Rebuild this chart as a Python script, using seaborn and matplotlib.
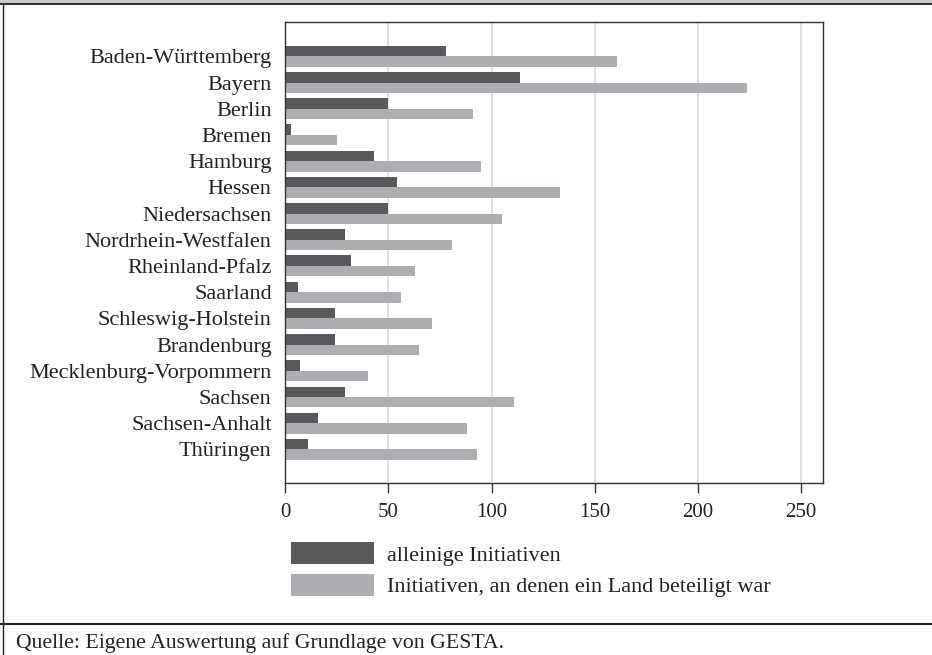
import matplotlib
matplotlib.use("Agg")
import matplotlib.pyplot as plt
import seaborn as sns
import pandas as pd
from matplotlib.lines import Line2D
from matplotlib.patches import Rectangle, Patch

# ---- data ----
laender = ["Baden-Württemberg", "Bayern", "Berlin", "Bremen", "Hamburg", "Hessen",
           "Niedersachsen", "Nordrhein-Westfalen", "Rheinland-Pfalz", "Saarland",
           "Schleswig-Holstein", "Brandenburg", "Mecklenburg-Vorpommern", "Sachsen",
           "Sachsen-Anhalt", "Thüringen"]
alleinige = [78, 114, 50, 3, 43, 54, 50, 29, 32, 6, 24, 24, 7, 29, 16, 11]
beteiligt = [161, 224, 91, 25, 95, 133, 105, 81, 63, 56, 71, 65, 40, 111, 88, 93]
serien = ["alleinige Initiativen", "Initiativen, an denen ein Land beteiligt war"]
farben = ["#58595b", "#adaeb1"]
x_ticks = [0, 50, 100, 150, 200, 250]
quelle = "Quelle: Eigene Auswertung auf Grundlage von GESTA."

df = pd.DataFrame({
    "Land": laender * 2,
    "Typ": [serien[0]] * len(laender) + [serien[1]] * len(laender),
    "Wert": alleinige + beteiligt,
})

sns.set_style("white")
plt.rcParams["font.family"] = ["Liberation Serif", "DejaVu Serif"]
plt.rcParams["text.color"] = "#222222"
plt.rcParams["xtick.color"] = "#333333"
plt.rcParams["xtick.labelcolor"] = "#222222"
plt.rcParams["ytick.labelcolor"] = "#222222"

W, H = 932, 655
fig = plt.figure(figsize=(W / 100, H / 100), dpi=100)
ax = fig.add_axes([285.2 / W, 1 - 482.7 / H, (822.8 - 285.2) / W, (482.7 - 22) / H])

sns.barplot(data=df, y="Land", x="Wert", hue="Typ", hue_order=serien, order=laender,
            palette=farben, orient="h", width=0.8, linewidth=0, saturation=1,
            legend=False, ax=ax)

ax.set_xlim(0, 260.5)
ax.set_ylim(16.27, -1.31)
ax.set_xticks(x_ticks)
ax.set_xticklabels([str(t) for t in x_ticks])
ax.set_xlabel("")
ax.set_ylabel("")
ax.grid(axis="x", color="#dedede", lw=1.3)
ax.grid(axis="y", visible=False)
ax.set_axisbelow(True)
for s in ax.spines.values():
    s.set_visible(True)
    s.set_color("#333333")
    s.set_linewidth(1.0)
ax.tick_params(axis="x", bottom=True, length=7, width=1, direction="out", labelsize=15, pad=7.5)
ax.tick_params(axis="y", left=False, length=0, labelsize=16, pad=9.7)

handles = [Patch(facecolor=c, edgecolor="none") for c in farben]
fig.legend(handles, serien, loc="upper left", bbox_to_anchor=(291 / W, 1 - 542 / H),
           frameon=False, fontsize=16, handlelength=3.74, handleheight=1.15,
           handletextpad=0.59, labelspacing=0.36, borderpad=0, borderaxespad=0)

# frame decorations
fig.add_artist(Rectangle((0, 1 - 3.5 / H), 1, 3.5 / H, transform=fig.transFigure,
                         facecolor="#c8c8c8", edgecolor="none"))
fig.add_artist(Line2D([0, 1], [1 - 4.2 / H] * 2, transform=fig.transFigure,
                      color="#222222", lw=1.3))
fig.add_artist(Line2D([2.7 / W] * 2, [0, 1 - 4 / H], transform=fig.transFigure,
                      color="#222222", lw=1.0))
fig.add_artist(Line2D([0, 1], [1 - 623.5 / H] * 2, transform=fig.transFigure,
                      color="#222222", lw=1.5))

fig.text(16 / W, 1 - 648 / H, quelle, fontsize=15.7, va="baseline", ha="left")

fig.savefig("out.png", dpi=100)
